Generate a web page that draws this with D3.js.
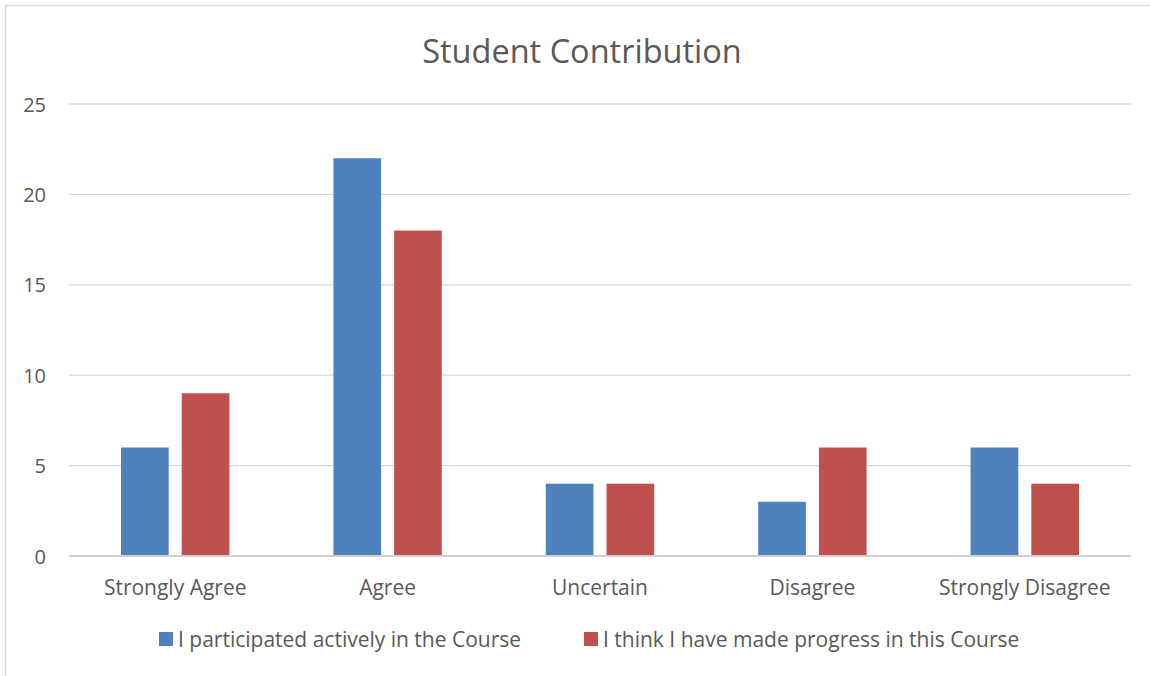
<!DOCTYPE html>
<html>
<head>
<meta charset="utf-8">
<script src="https://cdn.jsdelivr.net/npm/d3@7"></script>
<style>
	body { margin: 0; background: #fff; }
	text { font-family: "Open Sans", "Noto Sans", sans-serif; fill: #595959; }
</style>
</head>
<body>
<div id="chart"></div>
<script>
var categories = ["Strongly Agree", "Agree", "Uncertain", "Disagree", "Strongly Disagree"];
var seriesNames = ["I participated actively in the Course", "I think I have made progress in this Course"];
var participated = [6, 22, 4, 3, 6];
var progress = [9, 18, 4, 6, 4];
var yTicks = [0, 5, 10, 15, 20, 25];
var colors = ["#4F81BD", "#C0504D"];

function run_chart() {
	var width = 1150;
	var height = 676;
	var left = 69, right = 1131, top = 104, bottom = 556;

	var svg = d3
		.select("#chart")
		.append("svg")
		.attr("width", width)
		.attr("height", height);

	// chart frame (only top and left edges show in the picture)
	svg.append("path")
		.attr("d", "M5.5," + height + "V5.5H" + width)
		.attr("fill", "none")
		.attr("stroke", "#d9d9d9")
		.attr("stroke-width", 1.5);

	var x = d3.scaleBand().domain(categories).range([left, right]).paddingInner(0).paddingOuter(0);
	var inner = d3.scaleBand().domain([0, 1]).range([52, x.bandwidth() - 52]).paddingInner(0.215);
	var y = d3.scaleLinear().domain([0, 25]).range([bottom, top]);

	// gridlines
	svg.append("g")
		.selectAll("line")
		.data(yTicks)
		.enter()
		.append("line")
		.attr("x1", left)
		.attr("x2", right)
		.attr("y1", d => y(d))
		.attr("y2", d => y(d))
		.attr("stroke", d => d == 0 ? "#d0d0d0" : "#d9d9d9")
		.attr("stroke-width", d => d == 0 ? 2 : 1.3);

	// y tick labels
	svg.append("g")
		.selectAll("text")
		.data(yTicks)
		.enter()
		.append("text")
		.attr("x", 46)
		.attr("y", d => y(d))
		.attr("text-anchor", "end")
		.attr("dominant-baseline", "central")
		.style("font-size", "20px")
		.text(d => d);

	var series = [participated, progress];
	var bars = [];
	series.forEach(function (vals, s) {
		vals.forEach(function (v, i) {
			bars.push({ cat: categories[i], s: s, v: v });
		});
	});

	svg.append("g")
		.selectAll("rect")
		.data(bars)
		.enter()
		.append("rect")
		.attr("x", d => x(d.cat) + inner(d.s))
		.attr("width", inner.bandwidth())
		.attr("y", d => y(d.v))
		.attr("height", d => y(0) - y(d.v) - 1)
		.attr("fill", d => colors[d.s]);

	// category labels
	svg.append("g")
		.selectAll("text")
		.data(categories)
		.enter()
		.append("text")
		.attr("x", d => x(d) + x.bandwidth() / 2)
		.attr("y", 587)
		.attr("text-anchor", "middle")
		.attr("dominant-baseline", "central")
		.style("font-size", "21px")
		.text(d => d);

	// title
	svg.append("text")
		.attr("x", 582)
		.attr("y", 50)
		.attr("text-anchor", "middle")
		.attr("dominant-baseline", "central")
		.style("font-size", "32.5px")
		.text("Student Contribution");

	// legend
	var legendX = [159, 584];
	var legend = svg.append("g")
		.selectAll("g")
		.data(seriesNames)
		.enter()
		.append("g")
		.attr("transform", (d, i) => "translate(" + legendX[i] + ",639)");
	legend.append("rect")
		.attr("x", 0)
		.attr("y", -7)
		.attr("width", 14)
		.attr("height", 14)
		.attr("fill", (d, i) => colors[i]);
	legend.append("text")
		.attr("x", 19)
		.attr("y", 0)
		.attr("dominant-baseline", "central")
		.style("font-size", "21px")
		.text(d => d);
}

run_chart();
</script>
</body>
</html>
